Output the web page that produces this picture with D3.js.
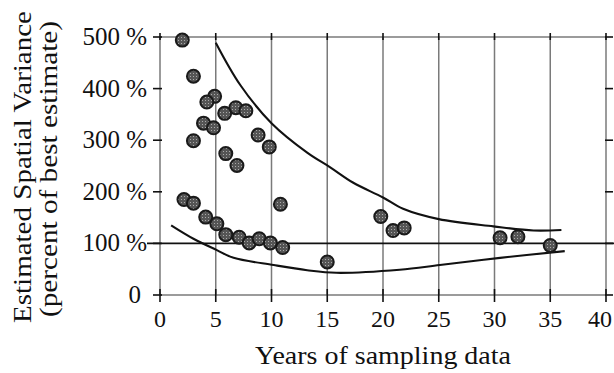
<!DOCTYPE html>
<html><head><meta charset="utf-8">
<script src="https://cdn.jsdelivr.net/npm/d3@7"></script>
<style>html,body{margin:0;padding:0;background:#fff;}svg{display:block;}
text{font-family:"Liberation Serif","Tinos","Times New Roman",Times,serif;fill:#111;}</style>
</head><body>
<svg id="chart" width="614" height="373"></svg>
<script>
// Data
const pointYears = [2, 3, 4.9, 4.2, 6.8, 7.7, 5.8, 3.9, 4.8, 8.8, 3, 9.8, 5.9, 6.9,
                    2.15, 3, 10.8, 4.1, 5.1, 5.9, 7.1, 8, 8.9, 9.9, 11,
                    15, 19.8, 20.9, 21.9, 30.5, 32.1, 35];
const pointValues = [494, 424, 385, 374, 363, 357, 352, 333, 324, 310, 299, 287, 274, 251,
                     185, 178, 176, 151, 138, 117, 112, 101, 109, 101, 92,
                     64, 152, 125, 130, 111, 113, 96];
const upperYears = [5, 7.2, 10, 13.2, 15.3, 17.3, 20, 21.8, 25, 29.9, 33.5, 36];
const upperValues = [489, 407, 333, 276, 247, 218, 189, 167, 147, 133, 125, 126];
const lowerYears = [1, 3, 5.1, 6.6, 10.2, 13.2, 15.8, 21.5, 25.1, 30.5, 36.3];
const lowerValues = [135, 109, 87, 72, 58, 48, 43, 49, 58, 72, 85];
const xTicks = [0, 5, 10, 15, 20, 25, 30, 35, 40];
const yTicks = [0, 100, 200, 300, 400, 500];
const yTickLabels = ["0", "100 %", "200 %", "300 %", "400 %", "500 %"];
const referenceLevel = 100;

const svg = d3.select("#chart");
const x = d3.scaleLinear().domain([0, 40]).range([160, 606]);
const y = d3.scaleLinear().domain([0, 500]).range([295, 37]);
const gridColor = "#7a7a7a";

// grid verticals (incl. frame sides)
svg.append("g").selectAll("line").data(xTicks).join("line")
  .attr("x1", d => x(d)).attr("x2", d => x(d))
  .attr("y1", y(500)).attr("y2", y(0))
  .attr("stroke", gridColor).attr("stroke-width", 1.5);
// top and bottom frame lines
[0, 500].forEach(v => {
  svg.append("line").attr("x1", x(0)).attr("x2", x(40))
    .attr("y1", y(v)).attr("y2", y(v))
    .attr("stroke", gridColor).attr("stroke-width", 1.5);
});

// bottom axis ticks (crossing)
svg.append("g").selectAll("line").data(xTicks).join("line")
  .attr("x1", d => x(d)).attr("x2", d => x(d))
  .attr("y1", y(0) - 6).attr("y2", y(0) + 7)
  .attr("stroke", "#111").attr("stroke-width", 1.6);
// top ticks
svg.append("g").selectAll("line").data(xTicks).join("line")
  .attr("x1", d => x(d)).attr("x2", d => x(d))
  .attr("y1", y(500) - 4).attr("y2", y(500) + 3)
  .attr("stroke", "#111").attr("stroke-width", 1.6);
// left ticks
svg.append("g").selectAll("line").data(yTicks).join("line")
  .attr("x1", x(0) - 7).attr("x2", x(0) + 2)
  .attr("y1", d => y(d)).attr("y2", d => y(d))
  .attr("stroke", "#111").attr("stroke-width", 1.6);
// right ticks
svg.append("g").selectAll("line").data(yTicks).join("line")
  .attr("x1", x(40) - 1).attr("x2", x(40) + 7)
  .attr("y1", d => y(d)).attr("y2", d => y(d))
  .attr("stroke", "#111").attr("stroke-width", 1.6);

// 100% reference line
svg.append("line").attr("x1", 147).attr("x2", 614)
  .attr("y1", y(referenceLevel)).attr("y2", y(referenceLevel))
  .attr("stroke", "#111").attr("stroke-width", 1.8);

// curves
const line = d3.line().x(d => x(d[0])).y(d => y(d[1])).curve(d3.curveCatmullRom.alpha(0.5));
svg.append("path").attr("d", line(d3.zip(upperYears, upperValues)))
  .attr("fill", "none").attr("stroke", "#111").attr("stroke-width", 2.1);
svg.append("path").attr("d", line(d3.zip(lowerYears, lowerValues)))
  .attr("fill", "none").attr("stroke", "#111").attr("stroke-width", 2.1);

// textured marker fill
const defs = svg.append("defs");
const pat = defs.append("pattern").attr("id", "spk").attr("patternUnits", "userSpaceOnUse")
  .attr("width", 3).attr("height", 3);
pat.append("rect").attr("width", 3).attr("height", 3).attr("fill", "#555");
pat.append("rect").attr("x", 1).attr("y", 1).attr("width", 1).attr("height", 1).attr("fill", "#aaa");

svg.append("g").selectAll("circle").data(d3.zip(pointYears, pointValues)).join("circle")
  .attr("cx", d => x(d[0])).attr("cy", d => y(d[1])).attr("r", 6.5)
  .attr("fill", "url(#spk)").attr("stroke", "#1a1a1a").attr("stroke-width", 2);

// x tick labels
svg.append("g").selectAll("text").data(xTicks).join("text")
  .attr("x", d => d === 40 ? 612 : x(d)).attr("y", 327)
  .attr("text-anchor", d => d === 40 ? "end" : "middle")
  .style("font-size", "24px")
  .text(d => d);
// y tick labels
svg.append("g").selectAll("text").data(yTicks).join("text")
  .attr("x", (d, i) => i === 0 ? 141 : 147).attr("y", d => y(d) + 8).attr("text-anchor", "end")
  .style("font-size", "25px")
  .text((d, i) => yTickLabels[i]);

// axis titles
svg.append("text").attr("x", 383).attr("y", 364).attr("text-anchor", "middle")
  .style("font-size", "25px")
  .attr("textLength", 256).attr("lengthAdjust", "spacingAndGlyphs")
  .text("Years of sampling data");
svg.append("text").attr("transform", "translate(31,167) rotate(-90)").attr("text-anchor", "middle")
  .style("font-size", "26px")
  .attr("textLength", 312).attr("lengthAdjust", "spacingAndGlyphs")
  .text("Estimated Spatial Variance");
svg.append("text").attr("transform", "translate(57,169) rotate(-90)").attr("text-anchor", "middle")
  .style("font-size", "26px")
  .attr("textLength", 296).attr("lengthAdjust", "spacingAndGlyphs")
  .text("(percent of best estimate)");
</script>
</body></html>
